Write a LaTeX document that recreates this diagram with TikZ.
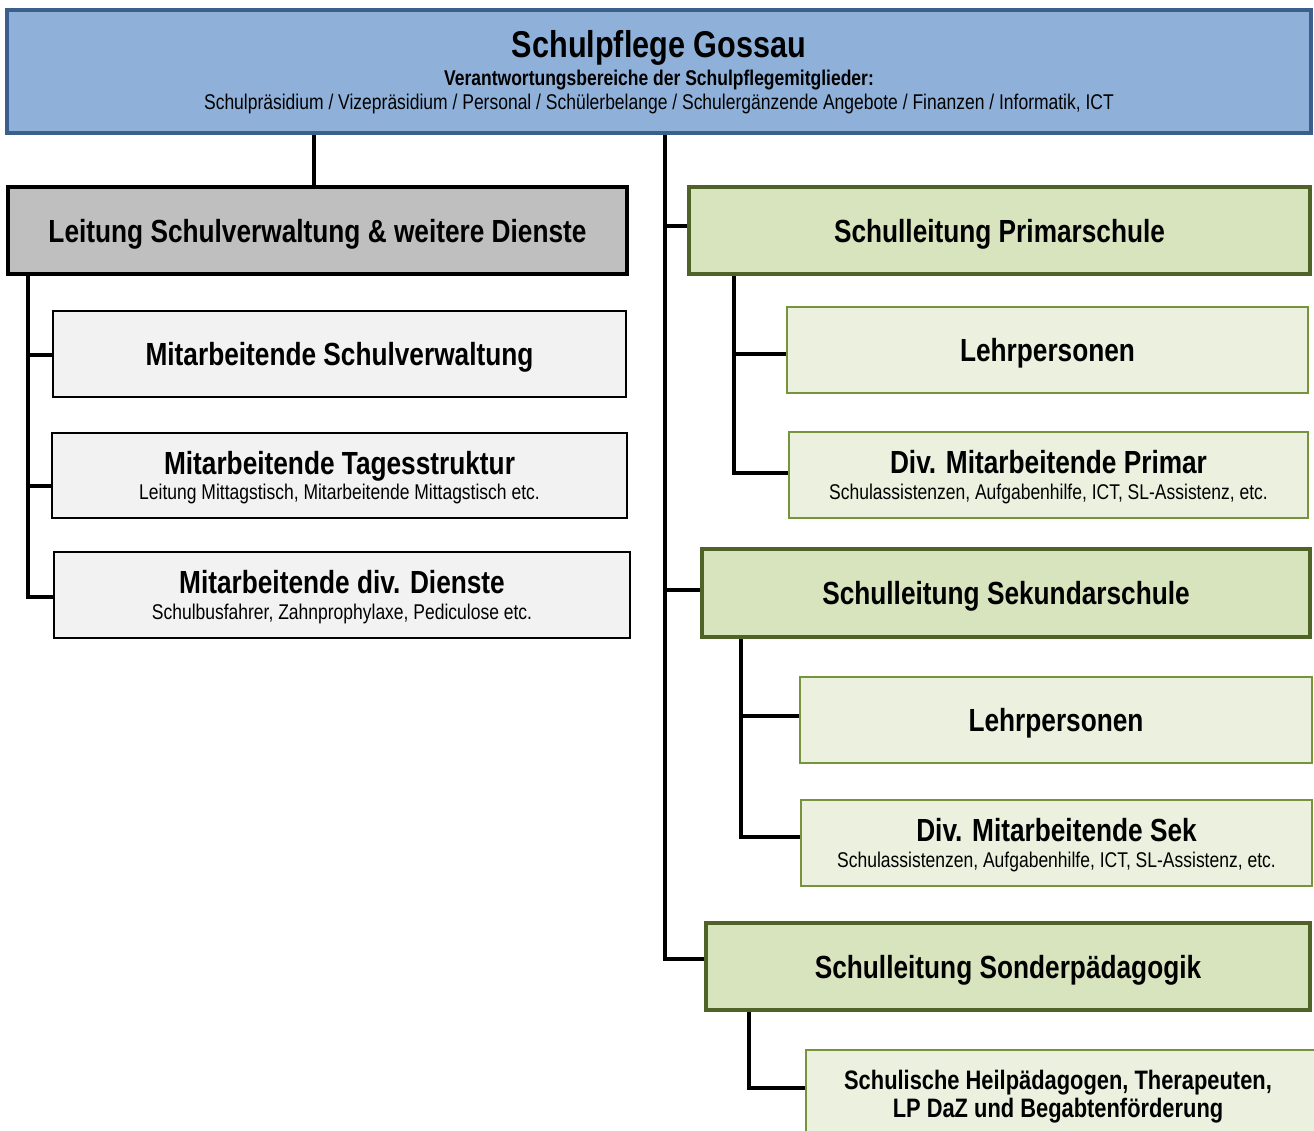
\documentclass[tikz,border=0pt]{standalone}
\usepackage{fontspec}
\setmainfont[FakeStretch=0.82]{Liberation Sans}
\usetikzlibrary{calc}
\definecolor{topfill}{HTML}{8FB1D9}
\definecolor{topdraw}{HTML}{3B5E8C}
\definecolor{grayfill}{HTML}{BFBFBF}
\definecolor{lightgray}{HTML}{F2F2F2}
\definecolor{gfill}{HTML}{D7E4BD}
\definecolor{gdraw}{HTML}{4F6228}
\definecolor{lgfill}{HTML}{EBF1DE}
\definecolor{lgdraw}{HTML}{77933C}
\newcommand\hdfont{\fontsize{24}{28}\selectfont\bfseries}
\newcommand\smallfont{\fontsize{16}{18}\selectfont\mdseries}
\begin{document}
\begin{tikzpicture}[x=0.75pt,y=-0.75pt,
  boxbase/.style={rectangle, inner sep=0pt, align=center, font=\hdfont, text depth=0pt},
  sz/.style 2 args={minimum width=#1*0.75pt, minimum height=#2*0.75pt},
  topbox/.style={boxbase, fill=topfill, draw=topdraw, line width=3pt},
  leadgray/.style={boxbase, fill=grayfill, draw=black, line width=3pt},
  subgray/.style={boxbase, fill=lightgray, draw=black, line width=1.5pt},
  leadgreen/.style={boxbase, fill=gfill, draw=gdraw, line width=3pt},
  subgreen/.style={boxbase, fill=lgfill, draw=lgdraw, line width=1.5pt},
  conn/.style={draw=black, line width=2.4pt}]
\clip (0,0) rectangle (1314,1131);
% top
\node[topbox, sz={1304}{123}] (top) at (659,71.5) {};
\node[font=\fontsize{28}{30}\selectfont\bfseries] (t1) at (659,47.5) {Schulpflege Gossau};
\node[font=\fontsize{16}{18}\selectfont\bfseries] (t2) at (659,80) {Verantwortungsbereiche der Schulpflegemitglieder:};
\node[font=\fontsize{16}{18}\selectfont] (t3) at (659,104) {Schulpräsidium / Vizepräsidium / Personal / Schülerbelange / Schulergänzende Angebote / Finanzen / Informatik, ICT};
% left
\node[leadgray, sz={619}{87}] (leit) at (317.5,230.5) {Leitung Schulverwaltung \& weitere Dienste};
\node[subgray, sz={573}{86}] (msv) at (339.5,354) {Mitarbeitende Schulverwaltung};
\node[subgray, sz={575}{85}] (mts) at (339.5,475.5) {Mitarbeitende Tagesstruktur\\[-9pt]{\smallfont Leitung Mittagstisch, Mitarbeitende Mittagstisch etc.}};
\node[subgray, sz={576}{86}] (mdd) at (342,595) {Mitarbeitende div. Dienste\\[-9pt]{\smallfont Schulbusfahrer, Zahnprophylaxe, Pediculose etc.}};
% right
\node[leadgreen, sz={621}{87}] (prim) at (999.5,230.5) {Schulleitung Primarschule};
\node[subgreen, sz={521}{86}] (lp1) at (1047.5,350) {Lehrpersonen};
\node[subgreen, sz={519}{86}] (dmp) at (1048.5,475) {Div. Mitarbeitende Primar\\[-9pt]{\smallfont Schulassistenzen, Aufgabenhilfe, ICT, SL-Assistenz, etc.}};
\node[leadgreen, sz={608}{88}] (sek) at (1006,593) {Schulleitung Sekundarschule};
\node[subgreen, sz={512}{86}] (lp2) at (1056,720) {Lehrpersonen};
\node[subgreen, sz={511}{86}] (dms) at (1056.5,843) {Div. Mitarbeitende Sek\\[-9pt]{\smallfont Schulassistenzen, Aufgabenhilfe, ICT, SL-Assistenz, etc.}};
\node[leadgreen, sz={604}{87}] (son) at (1008,966.5) {Schulleitung Sonderpädagogik};
\node[subgreen, sz={511}{94}, anchor=north west] (heil) at (805,1049) {};
\node[font=\fontsize{20}{22}\selectfont\bfseries, align=center] (heiltxt) at (1058,1097) {Schulische Heilpädagogen, Therapeuten,\\[-1pt]LP DaZ und Begabtenförderung};
% connectors
\draw[conn] (314,0 |- top.south) -- (314,0 |- leit.north);
\draw[conn] (665,0 |- top.south) -- (665,959) -- (665,959 -| son.west);
\draw[conn] (665,226) -- (665,226 -| prim.west);
\draw[conn] (665,590) -- (665,590 -| sek.west);
\draw[conn] (28,0 |- leit.south) -- (28,597) -- (28,597 -| mdd.west);
\draw[conn] (28,355) -- (28,355 -| msv.west);
\draw[conn] (28,486) -- (28,486 -| mts.west);
\draw[conn] (734,0 |- prim.south) -- (734,473) -- (734,473 -| dmp.west);
\draw[conn] (734,354) -- (734,354 -| lp1.west);
\draw[conn] (741,0 |- sek.south) -- (741,837) -- (741,837 -| dms.west);
\draw[conn] (741,716) -- (741,716 -| lp2.west);
\draw[conn] (749,0 |- son.south) -- (749,1088) -- (749,1088 -| heil.west);
\end{tikzpicture}
\end{document}
